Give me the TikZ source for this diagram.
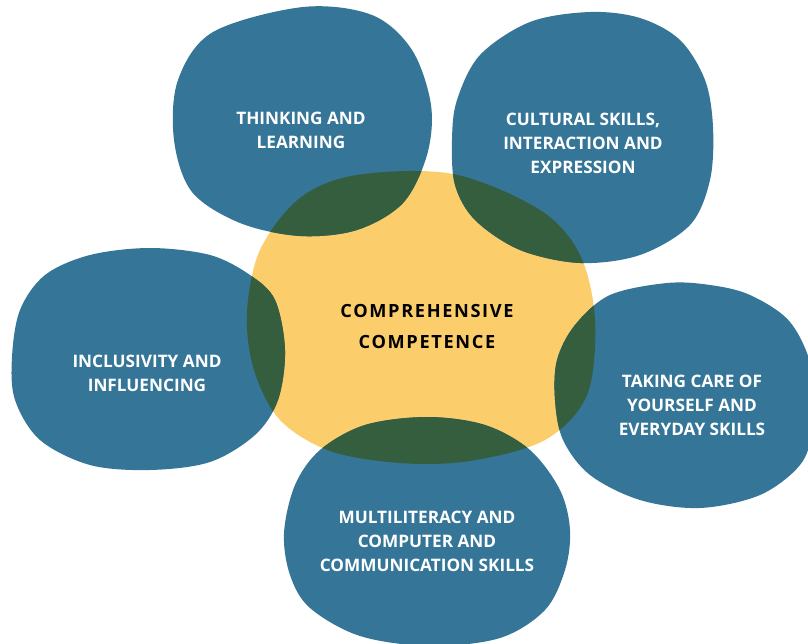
\documentclass[tikz,border=0pt]{standalone}
\usepackage{fontspec}
\setmainfont{Open Sans}
\definecolor{blobblue}{HTML}{357598}
\definecolor{blobyellow}{HTML}{FCCD6B}
\definecolor{blobgreen}{HTML}{345E3D}
\tikzset{
  lbl/.style={text=white, font=\fontsize{17.2}{24}\selectfont\bfseries, align=center},
  centerlbl/.style={text=black, font=\fontsize{18.2}{31}\selectfont\bfseries\addfontfeature{LetterSpace=9}, align=center}
}
\begin{document}
\begin{tikzpicture}[x=1pt,y=-1pt]
\useasboundingbox (0,0) rectangle (808,644);
% shapes
\path[save path=\pY] plot[smooth cycle, tension=0.55] coordinates {(357,175) (453,174) (540,210) (580,255) (595,320) (587,395) (545,440) (470,461) (400,463) (330,451) (280,420) (254,370) (247,313) (260,250) (300,198)};
\path[save path=\pA] plot[smooth cycle, tension=0.55] coordinates {(303,7) (372,15) (412,50) (431,105) (427,155) (403,203) (357,230) (300,236) (240,223) (192,192) (174,140) (178,80) (213,32)};
\path[save path=\pB] plot[smooth cycle, tension=0.55] coordinates {(590,12) (640,18) (680,40) (705,80) (713,127) (710,180) (690,225) (640,255) (580,263) (520,250) (475,220) (455,185) (452,140) (457,100) (480,55) (530,22)};
\path[save path=\pC] plot[smooth cycle, tension=0.55] coordinates {(150,248) (210,255) (250,275) (275,300) (285,350) (278,400) (255,435) (210,462) (150,470) (90,465) (40,440) (15,400) (12,357) (20,310) (45,275) (90,255)};
\path[save path=\pD] plot[smooth cycle, tension=0.55] coordinates {(667,283) (710,285) (750,295) (790,322) (812,370) (812,430) (800,465) (760,495) (700,508) (640,500) (590,475) (563,440) (555,400) (557,360) (575,325) (610,295)};
\path[save path=\pE] plot[smooth cycle, tension=0.55] coordinates {(427,417) (485,425) (530,450) (560,490) (570,530) (565,570) (545,610) (500,638) (430,646) (360,636) (310,608) (290,575) (284,533) (295,485) (320,450) (365,425)};
\fill[blobyellow, use path=\pY];
\fill[blobblue, use path=\pA];
\fill[blobblue, use path=\pB];
\fill[blobblue, use path=\pC];
\fill[blobblue, use path=\pD];
\fill[blobblue, use path=\pE];
\begin{scope}
\clip[use path=\pY];
\fill[blobgreen, use path=\pA];
\fill[blobgreen, use path=\pB];
\fill[blobgreen, use path=\pC];
\fill[blobgreen, use path=\pD];
\fill[blobgreen, use path=\pE];
\end{scope}
% labels
\node[centerlbl] (core) at (427,326) {COMPREHENSIVE\\COMPETENCE};
\node[lbl] (think) at (301,130) {THINKING AND\\LEARNING};
\node[lbl] (cult) at (583,143) {CULTURAL SKILLS,\\INTERACTION AND\\EXPRESSION};
\node[lbl] (incl) at (147,373) {INCLUSIVITY AND\\INFLUENCING};
\node[lbl] (care) at (692,405) {TAKING CARE OF\\YOURSELF AND\\EVERYDAY SKILLS};
\node[lbl] (multi) at (427,541) {MULTILITERACY AND\\COMPUTER AND\\COMMUNICATION SKILLS};
\end{tikzpicture}
\end{document}
